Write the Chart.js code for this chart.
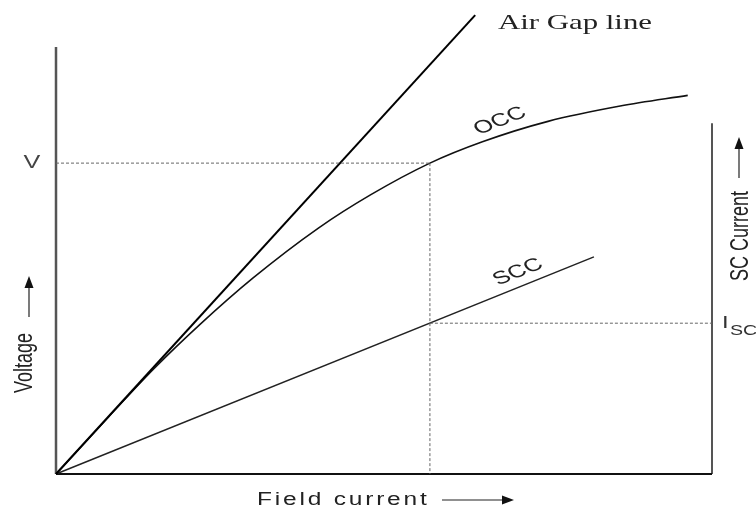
<!DOCTYPE html>
<html>
<head>
<meta charset="utf-8">
<script src="https://cdn.jsdelivr.net/npm/chart.js@4.4.1/dist/chart.umd.min.js"></script>
<style>
  body { margin: 0; background: #fff; }
  #wrap { width: 756px; height: 510px; }
</style>
</head>
<body>
<div id="wrap"><canvas id="occChart" width="756" height="510"></canvas></div>
<script>
// field current (x) and voltage / sc current (y), arbitrary units 0..100
const airGapX = [0, 63.9];
const airGapY = [0, 98.9];
const occX = [0, 8, 15, 22, 30, 40, 48, 57, 65, 75, 86, 96.3];
const occY = [0, 12.3, 22.8, 32.3, 42.2, 53.0, 60.2, 67.0, 71.6, 76.0, 79.3, 81.6];
const sccX = [0, 82];
const sccY = [0, 46.8];
const ratedField = 57;
const ratedVoltage = 67;
const iscValue = 32.5;
const voltageAxisTop = 92;
const scAxisTop = 75.6;

// the original figure is stretched sideways, text too
const SX = 1.4;

function pts(xs, ys) {
    return xs.map((x, i) => ({ x: x, y: ys[i] }));
}

const labelsPlugin = {
    id: 'labels',
    afterDraw(chart) {
        const ctx = chart.ctx;
        const ys = chart.scales.y;
        ctx.save();
        ctx.textBaseline = 'middle';

        function wide(text, x, y, font, color, align) {
            ctx.save();
            ctx.font = font;
            ctx.fillStyle = color;
            ctx.textAlign = align || 'left';
            ctx.translate(x, y);
            ctx.scale(SX, 1);
            ctx.fillText(text, 0, 0);
            ctx.restore();
        }
        function slanted(text, x, y, slope) {
            ctx.save();
            ctx.font = '18px "Liberation Sans", Arial, sans-serif';
            ctx.fillStyle = '#222';
            ctx.textAlign = 'center';
            ctx.translate(x, y);
            ctx.scale(SX, 1);
            ctx.rotate(-Math.atan(slope * SX));
            ctx.fillText(text, 0, 0);
            ctx.restore();
        }
        function upright(text, x, y) {
            ctx.save();
            ctx.font = '18px "Liberation Sans", Arial, sans-serif';
            ctx.fillStyle = '#222';
            ctx.textAlign = 'center';
            ctx.textBaseline = 'alphabetic';
            ctx.translate(x, y);
            ctx.rotate(-Math.PI / 2);
            ctx.scale(1, SX);
            ctx.fillText(text, 0, 0);
            ctx.restore();
        }

        wide('Air Gap line', 498, 23, '22px "Liberation Serif", "Times New Roman", serif', '#222');
        wide('V', 32, ys.getPixelForValue(ratedVoltage), '18px "Liberation Sans", Arial, sans-serif', '#444', 'center');

        slanted('OCC', 500, 121, 0.40);
        slanted('SCC', 518, 272, 0.40);

        const iy = ys.getPixelForValue(iscValue);
        wide('I', 722, iy, '17px "Liberation Sans", Arial, sans-serif', '#333');
        wide('SC', 730, iy + 8, '14px "Liberation Sans", Arial, sans-serif', '#333');

        upright('Voltage', 32, 363);
        upright('SC Current', 748, 236);

        ctx.save();
        ctx.font = '17.5px "Liberation Sans", Arial, sans-serif';
        ctx.fillStyle = '#222';
        ctx.translate(257, 500);
        ctx.scale(SX, 1);
        ctx.letterSpacing = '2px';
        ctx.fillText('Field current', 0, 0);
        ctx.restore();

        // arrows
        ctx.strokeStyle = '#222';
        ctx.fillStyle = '#111';
        ctx.lineWidth = 1.2;
        function arrow(x1, y1, x2, y2) {
            const a = Math.atan2(y2 - y1, x2 - x1);
            ctx.beginPath();
            ctx.moveTo(x1, y1);
            ctx.lineTo(x2 - 9 * Math.cos(a), y2 - 9 * Math.sin(a));
            ctx.stroke();
            ctx.beginPath();
            ctx.moveTo(x2, y2);
            ctx.lineTo(x2 - 12 * Math.cos(a) + 4.5 * Math.sin(a), y2 - 12 * Math.sin(a) - 4.5 * Math.cos(a));
            ctx.lineTo(x2 - 12 * Math.cos(a) - 4.5 * Math.sin(a), y2 - 12 * Math.sin(a) + 4.5 * Math.cos(a));
            ctx.closePath();
            ctx.fill();
        }
        arrow(29, 317, 29, 276);
        arrow(739, 178, 739, 137);
        arrow(442, 500, 514, 500);
        ctx.restore();
    }
};

const solid = { showLine: true, pointRadius: 0, fill: false, borderColor: '#111' };
const dashed = { showLine: true, pointRadius: 0, fill: false, borderColor: '#666', borderWidth: 1, borderDash: [3, 2] };

new Chart(document.getElementById('occChart'), {
    type: 'scatter',
    data: {
        datasets: [
            { ...dashed, data: [{ x: 0, y: ratedVoltage }, { x: ratedField, y: ratedVoltage }] },
            { ...dashed, data: [{ x: ratedField, y: ratedVoltage }, { x: ratedField, y: 0 }] },
            { ...dashed, data: [{ x: ratedField, y: iscValue }, { x: 100, y: iscValue }] },
            { ...solid, borderWidth: 2, borderColor: '#000', data: pts(airGapX, airGapY) },
            { ...solid, borderWidth: 1.6, data: pts(occX, occY), cubicInterpolationMode: 'monotone' },
            { ...solid, borderWidth: 1.5, borderColor: '#222', data: pts(sccX, sccY) },
            // axis lines
            { ...solid, borderWidth: 2.5, borderColor: '#555', data: [{ x: 0, y: voltageAxisTop }, { x: 0, y: 0 }] },
            { ...solid, borderWidth: 1.8, borderColor: '#111', data: [{ x: 0, y: 0 }, { x: 100, y: 0 }] },
            { ...solid, borderWidth: 2, borderColor: '#555', data: [{ x: 100, y: 0 }, { x: 100, y: scAxisTop }] }
        ]
    },
    options: {
        responsive: false,
        animation: false,
        clip: false,
        layout: { padding: { left: 56, right: 44, top: 10, bottom: 36 } },
        plugins: { legend: { display: false }, tooltip: { enabled: false } },
        scales: {
            x: { type: 'linear', min: 0, max: 100, display: false },
            y: { type: 'linear', min: 0, max: 100, display: false }
        }
    },
    plugins: [labelsPlugin]
});
</script>
</body>
</html>
